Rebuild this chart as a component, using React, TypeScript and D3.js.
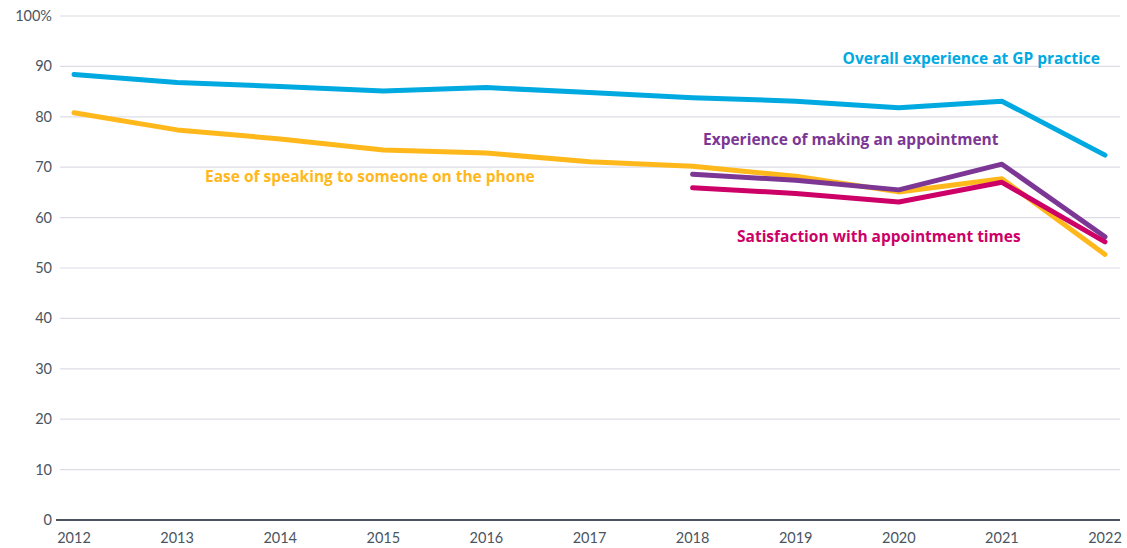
import React from "react";
import * as d3 from "d3";

const years = [2012, 2013, 2014, 2015, 2016, 2017, 2018, 2019, 2020, 2021, 2022];
const overall = [88.4, 86.8, 86.0, 85.1, 85.8, 84.8, 83.8, 83.1, 81.8, 83.1, 72.4];
const phone = [80.8, 77.4, 75.6, 73.4, 72.8, 71.1, 70.2, 68.2, 65.1, 67.7, 52.7];
const appointmentYears = [2018, 2019, 2020, 2021, 2022];
const makingAppt = [68.6, 67.4, 65.5, 70.6, 56.2];
const apptTimes = [65.9, 64.8, 63.1, 67.0, 55.2];
const yTicks = [0, 10, 20, 30, 40, 50, 60, 70, 80, 90, 100];

const W = 1127;
const H = 548;

export default function App() {
  const x = d3.scalePoint<number>().domain(years).range([74, 1105]);
  const y = d3.scaleLinear().domain([0, 100]).range([520, 16]);
  const line = d3
    .line<[number, number]>()
    .x((d) => x(d[0]) as number)
    .y((d) => y(d[1]));

  const series = [
    { yrs: years, vals: phone, color: "#FFB81C" },
    { yrs: appointmentYears, vals: makingAppt, color: "#7C3794" },
    { yrs: appointmentYears, vals: apptTimes, color: "#CC0066" },
    { yrs: years, vals: overall, color: "#00A9E0" },
  ];

  const font = "Lato, 'Open Sans', sans-serif";
  const labelFont = "'Open Sans', Lato, sans-serif";
  const labels = [
    { text: "Overall experience at GP practice", x: 1100, y: 59, anchor: "end", color: "#00A9E0" },
    { text: "Experience of making an appointment", x: 703, y: 140, anchor: "start", color: "#7C3794" },
    { text: "Ease of speaking to someone on the phone", x: 205, y: 177, anchor: "start", color: "#FFB81C" },
    { text: "Satisfaction with appointment times", x: 737, y: 237, anchor: "start", color: "#CC0066" },
  ];

  return (
    <svg
      width={W}
      height={H}
      style={{ position: "absolute", left: 0, top: 0, background: "#fff" }}
      fontFamily={font}
    >
      {yTicks.map((t) => (
        <g key={t}>
          {t > 0 && (
            <line x1={60} x2={1120} y1={y(t)} y2={y(t)} stroke="#dcdce6" strokeWidth={1.2} />
          )}
          <text
            x={52}
            y={y(t)}
            dy="0.35em"
            textAnchor="end"
            fontSize={14.5}
            fill="#4a5561"
          >
            {t === 100 ? "100%" : t}
          </text>
        </g>
      ))}
      <line x1={56} x2={1120} y1={y(0)} y2={y(0)} stroke="#4a5561" strokeWidth={2} />
      {years.map((yr) => (
        <text
          key={yr}
          x={x(yr) as number}
          y={538}
          dy="0.35em"
          textAnchor="middle"
          fontSize={14.5}
          fill="#4a5561"
        >
          {yr}
        </text>
      ))}
      {series.map((s, i) => (
        <path
          key={i}
          d={line(s.yrs.map((yr, j) => [yr, s.vals[j]] as [number, number])) || ""}
          fill="none"
          stroke={s.color}
          strokeWidth={5}
          strokeLinecap="round"
          strokeLinejoin="round"
        />
      ))}
      {labels.map((l, i) => (
        <text
          key={i}
          x={l.x}
          y={l.y}
          dy="0.35em"
          textAnchor={l.anchor as any}
          fontSize={15.5}
          fontWeight="bold"
          fontFamily={labelFont}
          fill={l.color}
        >
          {l.text}
        </text>
      ))}
    </svg>
  );
}
